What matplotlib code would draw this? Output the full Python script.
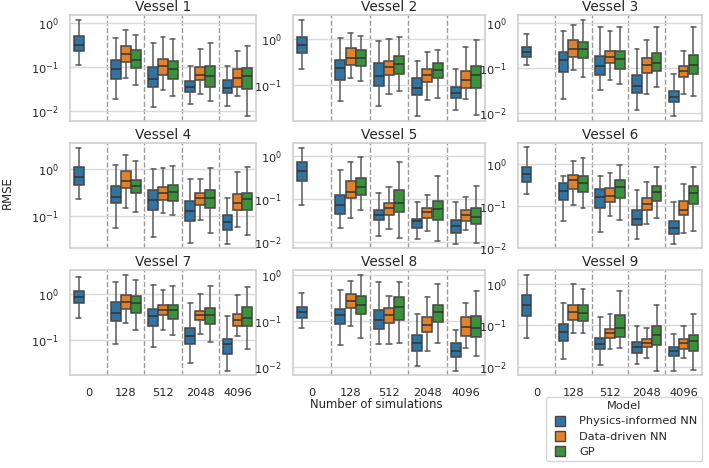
import colorsys

import matplotlib
matplotlib.use("Agg")
import matplotlib.pyplot as plt
import matplotlib.colors as mcolors
from matplotlib.lines import Line2D
import seaborn as sns

# x categories (number of simulations) and hue levels
categories = ["0", "128", "512", "2048", "4096"]
models = ["Physics-informed NN", "Data-driven NN", "GP"]
vessels = [f"Vessel {i}" for i in range(1, 10)]

# box stats per vessel: (whisker low, q1, median, q3, whisker high)
# Physics-informed NN: one box per category (0, 128, 512, 2048, 4096)
pinn_stats = [
    [(0.113, 0.227, 0.32, 0.515, 1.19), (0.019, 0.053, 0.092, 0.142, 0.456),
     (0.0123, 0.036, 0.054, 0.098, 0.35), (0.0145, 0.0275, 0.035, 0.049, 0.103),
     (0.0128, 0.026, 0.033, 0.05, 0.107)],
    [(0.22, 0.51, 0.75, 1.1, 2.63), (0.045, 0.13, 0.234, 0.355, 1.05),
     (0.0355, 0.097, 0.16, 0.30, 0.89), (0.021, 0.062, 0.086, 0.144, 0.327),
     (0.029, 0.051, 0.067, 0.089, 0.22)],
    [(0.116, 0.172, 0.231, 0.299, 0.566), (0.020, 0.082, 0.15, 0.231, 0.67),
     (0.0318, 0.069, 0.11, 0.188, 0.81), (0.0113, 0.028, 0.039, 0.069, 0.265),
     (0.0083, 0.0174, 0.0225, 0.0307, 0.0715)],
    [(0.225, 0.46, 0.69, 1.12, 2.87), (0.055, 0.188, 0.26, 0.43, 1.21),
     (0.035, 0.136, 0.214, 0.36, 1.0), (0.0273, 0.077, 0.128, 0.207, 0.615),
     (0.026, 0.0514, 0.0747, 0.107, 0.244)],
    [(0.073, 0.254, 0.45, 0.726, 1.56), (0.0211, 0.0445, 0.073, 0.123, 0.474),
     (0.0133, 0.0312, 0.0407, 0.0532, 0.134), (0.0113, 0.0207, 0.0296, 0.0341, 0.083),
     (0.009, 0.0162, 0.0227, 0.0312, 0.083)],
    [(0.194, 0.38, 0.58, 0.83, 2.48), (0.0429, 0.135, 0.233, 0.354, 0.51),
     (0.0239, 0.0905, 0.162, 0.255, 0.51), (0.0166, 0.0345, 0.0478, 0.078, 0.242),
     (0.0127, 0.0219, 0.0303, 0.0437, 0.123)],
    [(0.303, 0.63, 0.877, 1.17, 2.33), (0.086, 0.261, 0.394, 0.686, 1.83),
     (0.073, 0.201, 0.329, 0.48, 1.58), (0.0334, 0.083, 0.124, 0.189, 0.63),
     (0.0226, 0.0512, 0.083, 0.11, 0.329)],
    [(0.07, 0.114, 0.157, 0.2, 0.418), (0.0295, 0.085, 0.134, 0.186, 0.47),
     (0.032, 0.068, 0.105, 0.171, 0.70), (0.0108, 0.0224, 0.0336, 0.049, 0.141),
     (0.0084, 0.0162, 0.0224, 0.0336, 0.0636)],
    [(0.05, 0.164, 0.30, 0.524, 1.64), (0.015, 0.0413, 0.0667, 0.104, 0.343),
     (0.011, 0.026, 0.035, 0.05, 0.153), (0.0116, 0.021, 0.0302, 0.0398, 0.095),
     (0.008, 0.0184, 0.0238, 0.0302, 0.0608)],
]

# Data-driven NN: categories 128, 512, 2048, 4096
ddnn_stats = [
    [(0.055, 0.132, 0.2, 0.295, 0.71), (0.030, 0.067, 0.107, 0.152, 0.48),
     (0.024, 0.05, 0.066, 0.098, 0.26), (0.0215, 0.035, 0.055, 0.09, 0.235)],
    [(0.14, 0.27, 0.386, 0.64, 1.33), (0.064, 0.165, 0.242, 0.327, 1.0),
     (0.048, 0.114, 0.168, 0.226, 0.52), (0.05, 0.087, 0.128, 0.198, 0.66)],
    [(0.089, 0.178, 0.26, 0.41, 0.89), (0.053, 0.126, 0.178, 0.243, 0.68),
     (0.0267, 0.075, 0.116, 0.163, 0.42), (0.0267, 0.0612, 0.0863, 0.112, 0.243)],
    [(0.145, 0.4, 0.55, 0.89, 2.0), (0.117, 0.221, 0.306, 0.42, 1.05),
     (0.081, 0.173, 0.244, 0.306, 0.615), (0.0586, 0.132, 0.188, 0.287, 0.85)],
    [(0.0347, 0.103, 0.141, 0.254, 0.726), (0.0193, 0.0422, 0.060, 0.0787, 0.185),
     (0.0177, 0.0353, 0.0487, 0.060, 0.125), (0.0183, 0.0296, 0.0422, 0.055, 0.108)],
    [(0.103, 0.255, 0.418, 0.548, 1.2), (0.0564, 0.123, 0.177, 0.265, 0.6),
     (0.0378, 0.081, 0.109, 0.153, 0.38), (0.0231, 0.0595, 0.081, 0.13, 0.335)],
    [(0.237, 0.48, 0.66, 0.95, 2.58), (0.171, 0.345, 0.457, 0.583, 1.23),
     (0.141, 0.27, 0.357, 0.427, 1.0), (0.124, 0.201, 0.28, 0.363, 0.97)],
    [(0.078, 0.196, 0.279, 0.387, 0.74), (0.031, 0.089, 0.134, 0.196, 0.356),
     (0.0224, 0.059, 0.082, 0.122, 0.327), (0.0264, 0.048, 0.076, 0.122, 0.244)],
    [(0.063, 0.132, 0.209, 0.313, 1.0), (0.0265, 0.048, 0.063, 0.080, 0.184),
     (0.0159, 0.0302, 0.0377, 0.0454, 0.083), (0.0159, 0.026, 0.0363, 0.046, 0.095)],
]

# GP: categories 128, 512, 2048, 4096
gp_stats = [
    [(0.038, 0.097, 0.147, 0.239, 0.543), (0.022, 0.053, 0.090, 0.137, 0.43),
     (0.0166, 0.036, 0.063, 0.107, 0.357), (0.0076, 0.0316, 0.063, 0.095, 0.295)],
    [(0.124, 0.263, 0.386, 0.59, 1.18), (0.073, 0.176, 0.29, 0.42, 1.1),
     (0.052, 0.142, 0.216, 0.30, 0.567), (0.022, 0.086, 0.168, 0.255, 0.935)],
    [(0.063, 0.163, 0.26, 0.374, 1.19), (0.0426, 0.094, 0.155, 0.243, 0.84),
     (0.0365, 0.085, 0.13, 0.212, 0.84), (0.0237, 0.0715, 0.118, 0.194, 0.81)],
    [(0.122, 0.311, 0.445, 0.595, 1.45), (0.103, 0.207, 0.32, 0.46, 1.18),
     (0.0445, 0.148, 0.244, 0.36, 1.05), (0.040, 0.136, 0.225, 0.311, 1.08)],
    [(0.055, 0.123, 0.185, 0.298, 0.915), (0.0124, 0.0487, 0.0787, 0.163, 0.726),
     (0.0102, 0.0312, 0.058, 0.086, 0.332), (0.0093, 0.0261, 0.0373, 0.06, 0.2)],
    [(0.0905, 0.221, 0.354, 0.51, 1.39), (0.0453, 0.156, 0.28, 0.418, 0.947),
     (0.0524, 0.128, 0.213, 0.306, 0.865), (0.0248, 0.109, 0.205, 0.306, 0.83)],
    [(0.166, 0.394, 0.63, 0.906, 1.99), (0.134, 0.284, 0.457, 0.59, 1.45),
     (0.0934, 0.23, 0.357, 0.504, 1.45), (0.065, 0.201, 0.308, 0.537, 1.38)],
    [(0.043, 0.146, 0.229, 0.356, 1.02), (0.0336, 0.105, 0.2, 0.327, 0.72),
     (0.0336, 0.097, 0.157, 0.226, 0.65), (0.017, 0.045, 0.072, 0.129, 0.45)],
    [(0.063, 0.127, 0.197, 0.313, 0.76), (0.0275, 0.052, 0.086, 0.174, 0.665),
     (0.008, 0.0331, 0.0576, 0.096, 0.313), (0.0083, 0.0238, 0.0413, 0.0576, 0.19)],
]


def desaturate(color, prop=0.75):
    r, g, b = mcolors.to_rgb(color)
    h, l, s = colorsys.rgb_to_hls(r, g, b)
    return colorsys.hls_to_rgb(h, l, s * prop)


sns.set_theme(style="whitegrid")
plt.rcParams["font.family"] = ["DejaVu Sans"]

colors = [desaturate(c) for c in ["#1f77b4", "#ff7f0e", "#2ca02c"]]
edge_color = "#454545"
whisker_color = "#5a5a5a"
box_w = 0.8 / 3
offsets = [-box_w, 0.0, box_w]

fig = plt.figure(figsize=(7.09, 4.68), dpi=100)
W, H = 709.0, 468.0
col_px = [(70, 256), (293, 485), (518, 702)]
row_px = [(15, 121), (142.7, 248.3), (270, 375.3)]


def to_stats(t):
    lo, q1, med, q3, hi = t
    return dict(whislo=lo, q1=q1, med=med, q3=q3, whishi=hi, fliers=[])


for v in range(9):
    r, c = divmod(v, 3)
    x0, x1 = col_px[c]
    y0, y1 = row_px[r]
    ax = fig.add_axes([x0 / W, 1 - y1 / H, (x1 - x0) / W, (y1 - y0) / H])

    series = [pinn_stats[v], [None] + ddnn_stats[v], [None] + gp_stats[v]]
    for m, stats in enumerate(series):
        pos, st = [], []
        for i, t in enumerate(stats):
            if t is None:
                continue
            pos.append(i + offsets[m])
            st.append(to_stats(t))
        ax.bxp(st, positions=pos, widths=box_w * 0.98, patch_artist=True,
               showfliers=False,
               boxprops=dict(facecolor=colors[m], edgecolor=edge_color, linewidth=1.1),
               whiskerprops=dict(color=whisker_color, linewidth=1.1),
               capprops=dict(color=whisker_color, linewidth=1.1),
               medianprops=dict(color="#333333", linewidth=1.1))

    ax.set_yscale("log")
    ax.set_xlim(-0.5, len(categories) - 0.5)
    for sep in range(len(categories) - 1):
        ax.axvline(sep + 0.5, color="#9a9a9a", linestyle="--", linewidth=1.0, zorder=0)
    ax.grid(False, axis="x")
    ax.grid(True, axis="y", which="major", color="#d9d9d9", linewidth=1.0)
    ax.grid(False, axis="y", which="minor")
    ax.set_xticks(range(len(categories)))
    if r == 2:
        ax.set_xticklabels(categories, fontsize=8.2)
    else:
        ax.set_xticklabels([])
    ax.tick_params(axis="y", labelsize=8.2, pad=2)
    ax.tick_params(axis="x", pad=3)
    ax.set_title(vessels[v], fontsize=9.8, pad=3)
    for sp in ax.spines.values():
        sp.set_color("#d0d0d0")

fig.text(7 / W, 1 - 193 / H, "RMSE", rotation=90, ha="center", va="center", fontsize=8.4)
fig.text(376 / W, 1 - 405 / H, "Number of simulations", ha="center", va="center", fontsize=8.4)

handles = [Line2D([], [], marker="s", linestyle="none", markersize=7,
                  markerfacecolor=colors[m], markeredgecolor=edge_color,
                  markeredgewidth=1.0) for m in range(3)]
leg = fig.legend(handles, models, title="Model", fontsize=8.2, title_fontsize=8.2,
                 loc="lower right", bbox_to_anchor=(708 / W, 1 / H),
                 frameon=True, handlelength=1.5, handletextpad=1.0,
                 borderpad=0.4, labelspacing=0.45)
leg.get_frame().set_edgecolor("#cccccc")

fig.savefig("out.png", dpi=100)
